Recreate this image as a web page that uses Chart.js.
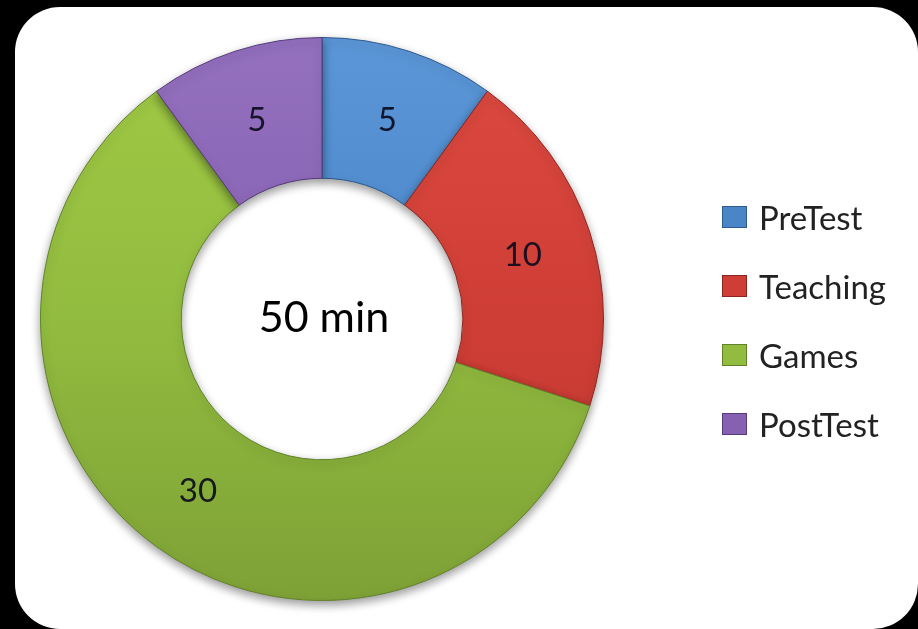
<!DOCTYPE html>
<html>
<head>
<meta charset="utf-8">
<script src="https://cdn.jsdelivr.net/npm/chart.js@4/dist/chart.umd.min.js"></script>
<style>
    html, body { margin: 0; padding: 0; background: #000; }
    #marco {
        position: absolute; left: 15px; top: 7px; width: 903px; height: 622px;
        background: #fff; border-radius: 45px;
    }
    #grafico { position: absolute; left: 0; top: 0; }
    #leyenda {
        position: absolute; left: 722px; top: 182px; margin: 0; padding: 0;
        list-style: none; font-family: Lato, sans-serif; font-size: 33px; color: #222;
    }
    #leyenda li { height: 69px; display: flex; align-items: center; }
    #leyenda span { display: inline-block; width: 23px; height: 20px; margin-right: 12px; }
</style>
</head>
<body>
<div id="marco"></div>
<canvas id="grafico" width="918" height="629"></canvas>
<ul id="leyenda"></ul>
<script>
// Actividades de la sesión y minutos de cada una
const actividades = ['PreTest', 'Teaching', 'Games', 'PostTest'];
const minutos = [5, 10, 30, 5];
const colores = ['#4a85c8', '#cf3e36', '#92bc3f', '#8661b2'];
const claros = ['#5b97d8', '#dc4a40', '#a0c945', '#9470bf'];
const oscuros = ['#3f74b0', '#b8362f', '#7ea136', '#74529c'];
const bordes = ['#2e5a8c', '#8e2620', '#62822a', '#553c7a'];

const totalMinutos = minutos.reduce((a, b) => a + b, 0);

// Degradado vertical para dar algo de relieve a cada segmento
function relleno(context) {
    const chart = context.chart;
    const area = chart.chartArea;
    if (!area) return colores[context.dataIndex];
    const i = context.dataIndex;
    const g = chart.ctx.createLinearGradient(0, area.top, 0, area.bottom);
    g.addColorStop(0, claros[i]);
    g.addColorStop(0.5, colores[i]);
    g.addColorStop(1, oscuros[i]);
    return g;
}

// Sombra suave bajo los segmentos
const sombraPlugin = {
    id: 'sombra',
    beforeDatasetsDraw(chart) {
        const ctx = chart.ctx;
        ctx.save();
        ctx.shadowColor = 'rgba(0,0,0,0.4)';
        ctx.shadowBlur = 10;
        ctx.shadowOffsetY = 4;
    },
    afterDatasetsDraw(chart) {
        chart.ctx.restore();
    }
};

// Valores dentro de cada segmento y total en el centro
const etiquetasPlugin = {
    id: 'etiquetas',
    afterDraw(chart) {
        const ctx = chart.ctx;
        const meta = chart.getDatasetMeta(0);
        ctx.save();
        ctx.textAlign = 'center';
        ctx.textBaseline = 'middle';
        ctx.font = '33px Lato';
        ctx.fillStyle = 'rgba(12,12,30,0.92)';
        meta.data.forEach((arco, i) => {
            const p = arco.tooltipPosition();
            ctx.fillText(String(chart.data.datasets[0].data[i]), p.x, p.y + 2);
        });
        const area = chart.chartArea;
        ctx.font = '43px Lato';
        ctx.fillStyle = '#000';
        ctx.fillText(`${totalMinutos} min`, (area.left + area.right) / 2 + 2, (area.top + area.bottom) / 2 - 1);
        ctx.restore();
    }
};

const grafico = new Chart(document.getElementById('grafico'), {
    type: 'doughnut',
    data: {
        labels: actividades,
        datasets: [{
            data: minutos,
            backgroundColor: relleno,
            borderColor: bordes,
            borderWidth: 1,
        }],
    },
    options: {
        responsive: false,
        animation: false,
        cutout: '50%',
        layout: { padding: { top: 37, bottom: 28, left: 40, right: 314 } },
        plugins: {
            legend: { display: false },
            tooltip: { enabled: false },
        },
    },
    plugins: [sombraPlugin, etiquetasPlugin],
});

// Leyenda a la derecha
const leyenda = document.getElementById('leyenda');
actividades.forEach((nombre, i) => {
    const li = document.createElement('li');
    li.innerHTML = `<span style="background:${colores[i]};border:1px solid ${bordes[i]}"></span>${nombre}`;
    leyenda.appendChild(li);
});
</script>
</body>
</html>
